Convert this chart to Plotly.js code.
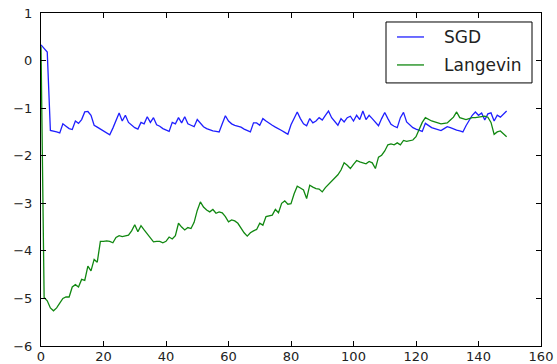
<!DOCTYPE html>
<html>
<head>
<meta charset="utf-8">
<script src="https://cdn.plot.ly/plotly-3.0.1.min.js"></script>
<style>html,body{margin:0;padding:0;background:#fff;}#chart{width:557px;height:364px;}</style>
</head>
<body>
<div id="chart"></div>
<script>
const seriesNames = ["SGD", "Langevin"];
const seriesColors = ["#1f1fff", "#118811"];
const sgd = [
  0.33, 0.25, 0.18, -1.47, -1.48, -1.50, -1.52, -1.33, -1.38, -1.43,
  -1.45, -1.27, -1.32, -1.24, -1.08, -1.07, -1.15, -1.36, -1.40, -1.44,
  -1.48, -1.52, -1.56, -1.42, -1.25, -1.10, -1.27, -1.15, -1.30, -1.36,
  -1.41, -1.44, -1.30, -1.33, -1.18, -1.30, -1.20, -1.35, -1.38, -1.43,
  -1.46, -1.49, -1.30, -1.33, -1.20, -1.31, -1.18, -1.33, -1.36, -1.39,
  -1.24, -1.32, -1.39, -1.43, -1.46, -1.48, -1.49, -1.50, -1.33, -1.16,
  -1.27, -1.33, -1.36, -1.38, -1.40, -1.44, -1.47, -1.50, -1.31, -1.31,
  -1.36, -1.22, -1.27, -1.32, -1.36, -1.40, -1.43, -1.47, -1.51, -1.55,
  -1.35, -1.20, -1.08, -1.22, -1.33, -1.37, -1.22, -1.31, -1.27, -1.20,
  -1.25, -1.15, -1.06, -1.20, -1.29, -1.36, -1.22, -1.29, -1.20, -1.17,
  -1.27, -1.15, -1.24, -1.06, -1.24, -1.15, -1.22, -1.29, -1.37, -1.22,
  -1.09, -1.22, -1.34, -1.38, -1.41, -1.20, -1.09, -1.29, -1.35, -1.41,
  -1.44, -1.46, -1.49, -1.32, -1.36, -1.41, -1.43, -1.45, -1.47, -1.43,
  -1.39, -1.41, -1.44, -1.46, -1.48, -1.50, -1.37, -1.25, -1.15, -1.08,
  -1.15, -1.10, -1.25, -1.12, -1.10, -1.27, -1.15, -1.19, -1.12, -1.06
];
const langevin = [
  0.30, -4.98, -5.05, -5.20, -5.26, -5.20, -5.10, -5.00, -4.97, -4.97,
  -4.76, -4.71, -4.76, -4.60, -4.62, -4.32, -4.42, -4.18, -4.24, -3.80,
  -3.80, -3.79, -3.80, -3.83, -3.72, -3.68, -3.70, -3.69, -3.67, -3.58,
  -3.45, -3.60, -3.47, -3.56, -3.64, -3.72, -3.81, -3.80, -3.80, -3.83,
  -3.80, -3.71, -3.75, -3.68, -3.42, -3.50, -3.56, -3.51, -3.53, -3.40,
  -3.15, -2.97, -3.08, -3.14, -3.18, -3.13, -3.21, -3.18, -3.20, -3.28,
  -3.39, -3.35, -3.37, -3.42, -3.53, -3.62, -3.69, -3.62, -3.58, -3.55,
  -3.42, -3.46, -3.28, -3.26, -3.25, -3.13, -3.20, -3.00, -2.95, -3.02,
  -3.01, -2.80, -2.64, -2.68, -2.72, -2.90, -2.62, -2.66, -2.69, -2.70,
  -2.76, -2.67, -2.60, -2.52, -2.47, -2.40, -2.30, -2.15, -2.20, -2.27,
  -2.18, -2.10, -2.13, -2.15, -2.17, -2.12, -2.15, -2.27, -2.03, -1.99,
  -1.90, -1.77, -1.75, -1.77, -1.73, -1.77, -1.68, -1.70, -1.69, -1.67,
  -1.60, -1.45, -1.30, -1.20, -1.24, -1.27, -1.29, -1.31, -1.33, -1.32,
  -1.31, -1.25, -1.19, -1.08, -1.20, -1.22, -1.24, -1.22, -1.20, -1.20,
  -1.19, -1.18, -1.17, -1.19, -1.30, -1.55, -1.50, -1.48, -1.55, -1.60
];
const xTickVals = [0, 20, 40, 60, 80, 100, 120, 140, 160];
const yTickVals = [1, 0, -1, -2, -3, -4, -5, -6];
const steps = sgd.map((_, i) => i);

const font = "DejaVu Sans, Liberation Sans, sans-serif";
const traces = [
  {x: steps, y: sgd, name: seriesNames[0], type: "scatter", mode: "lines",
   line: {color: seriesColors[0], width: 1.3}},
  {x: steps, y: langevin, name: seriesNames[1], type: "scatter", mode: "lines",
   line: {color: seriesColors[1], width: 1.3}}
];
const axisCommon = {
  showline: true, linecolor: "#000", linewidth: 1, mirror: "ticks",
  ticks: "inside", ticklen: 5, tickwidth: 1, tickcolor: "#000",
  showgrid: false, zeroline: false,
  tickfont: {family: font, size: 13, color: "#222"}
};

// legend box drawn in paper coordinates (matplotlib-style legend)
const legBox = {x0: 0.690, x1: 0.982, y0: 0.790, y1: 0.973};
const legRowsY = [0.928, 0.844];
const legSample = {x0: 0.712, x1: 0.766};
const legTextX = 0.802;

const shapes = [
  {type: "rect", xref: "paper", yref: "paper", x0: legBox.x0, x1: legBox.x1, y0: legBox.y0, y1: legBox.y1,
   line: {color: "#000", width: 1}, fillcolor: "#fff", layer: "above"}
];
const annotations = [];
seriesNames.forEach((name, k) => {
  shapes.push({type: "line", xref: "paper", yref: "paper", x0: legSample.x0, x1: legSample.x1,
    y0: legRowsY[k], y1: legRowsY[k], line: {color: seriesColors[k], width: 1.3}, layer: "above"});
  annotations.push({xref: "paper", yref: "paper", x: legTextX, y: legRowsY[k], text: name,
    showarrow: false, xanchor: "left", yanchor: "middle",
    font: {family: font, size: 17, color: "#222"}});
});

const layout = {
  width: 557, height: 364,
  margin: {l: 41, r: 16, t: 13, b: 18, pad: 0},
  paper_bgcolor: "#fff", plot_bgcolor: "#fff",
  showlegend: false,
  xaxis: Object.assign({}, axisCommon, {range: [0, 160], tickvals: xTickVals, ticklabelstandoff: -2}),
  yaxis: Object.assign({}, axisCommon, {range: [-6, 1], tickvals: yTickVals, ticklabelstandoff: 5}),
  shapes: shapes,
  annotations: annotations
};
Plotly.newPlot("chart", traces, layout, {staticPlot: true, displayModeBar: false});
</script>
</body>
</html>
